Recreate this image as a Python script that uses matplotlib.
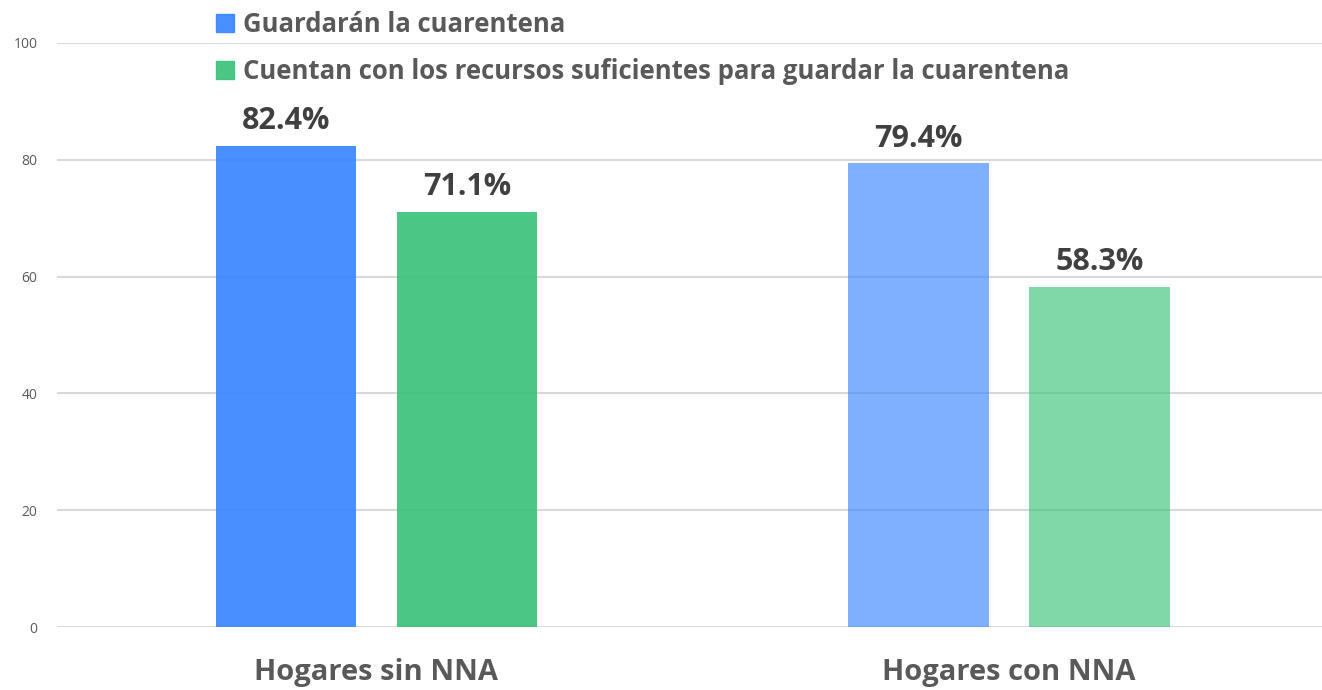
from matplotlib import pyplot as plt
from matplotlib.patches import Patch
import numpy as np

plt.rcParams["font.family"] = ["Open Sans", "DejaVu Sans"]

categories = ["Hogares sin NNA", "Hogares con NNA"]
series_names = [
    "Guardarán la cuarentena",
    "Cuentan con los recursos suficientes para guardar la cuarentena",
]
guardaran = [82.4, 79.4]
recursos = [71.1, 58.3]

# base colours, second group is drawn lighter
blue = "#3A86FF"
green = "#3CC27A"
alphas = [0.92, 0.65]
grey = "#595959"

fig = plt.figure(figsize=(13.22, 6.9), dpi=100)
ax = fig.add_axes([0.043, 0.0913, 0.957, 0.8464])

x = np.arange(len(categories))
width = 0.222
offset = 0.143

for values, color, sign in [(guardaran, blue, -1), (recursos, green, 1)]:
    for i, v in enumerate(values):
        ax.bar(x[i] + sign * offset, v, width, color=color, alpha=alphas[i], zorder=2)
        ax.annotate(
            f"{v:.1f}%",
            (x[i] + sign * offset, v),
            xytext=(0, 7),
            textcoords="offset points",
            ha="center",
            va="bottom",
            fontsize=22,
            fontweight="bold",
            color="#404040",
        )

ax.set_xlim(-0.505, 1.495)
ax.set_ylim(0, 100)
ax.set_yticks(np.arange(0, 101, 20))
ax.set_xticks(x)
ax.set_xticklabels(categories, fontsize=21, fontweight="bold", color=grey)
ax.tick_params(axis="x", length=0, pad=22)
ax.tick_params(axis="y", length=0, pad=14, labelsize=10, labelcolor=grey)
ax.yaxis.grid(True, color="#d9d9d9", linewidth=1.5, zorder=0)
ax.set_axisbelow(True)
for s in ax.spines.values():
    s.set_visible(False)

handles = [Patch(color=blue, alpha=alphas[0]), Patch(color=green, alpha=alphas[0])]
fig.legend(
    handles,
    series_names,
    loc="upper left",
    bbox_to_anchor=(193 / 1322, 1.018),
    frameon=False,
    handlelength=0.68,
    handleheight=0.68,
    handletextpad=0.35,
    labelspacing=0.8,
    labelcolor=grey,
    prop={"weight": "bold", "size": 18.5},
)

plt.savefig("out.png", dpi=100)
